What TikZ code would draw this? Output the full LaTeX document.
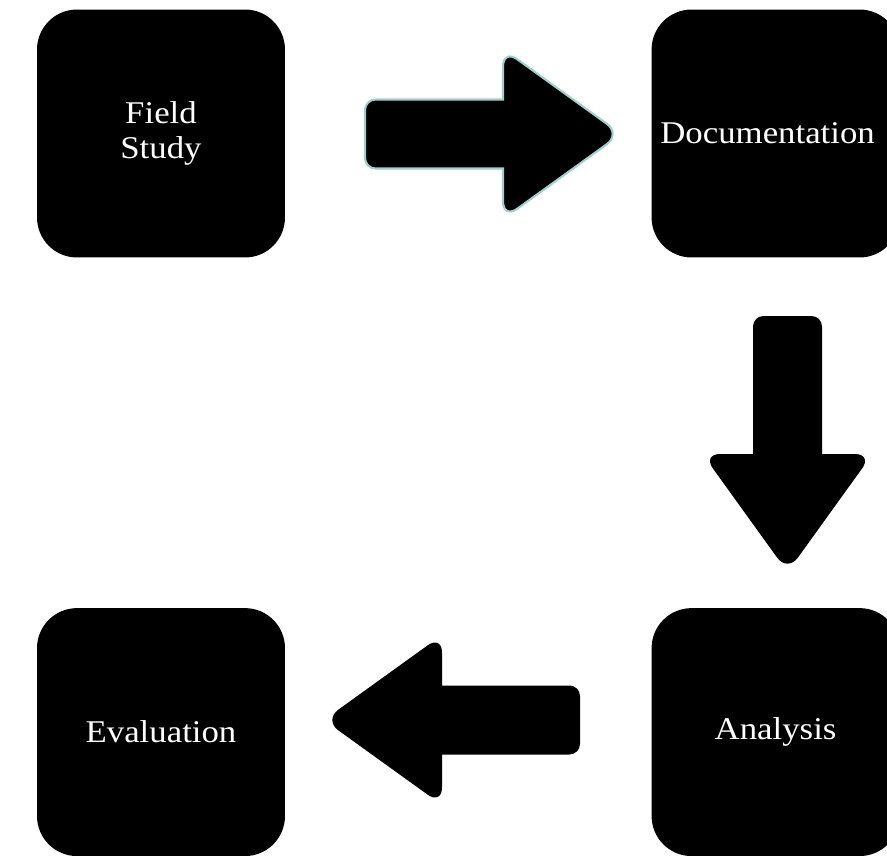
\documentclass[tikz,border=0pt]{standalone}
\usepackage{fontspec}
\setmainfont{Liberation Serif}[FakeStretch=1.1]
\usepackage{xcolor}
\usetikzlibrary{positioning}
\definecolor{flowteal}{HTML}{9FD0CB}

% block arrow, drawn along +x from the back of its shaft
\tikzset{
  blockarrow/.pic={
    \path[pic actions]
      (0,0) [rounded corners=6pt] -- (0,-34.5)
      [sharp corners] -- (138,-34.5)
      [rounded corners=10pt] -- (138,-85) -- (256,0) -- (138,85)
      [sharp corners] -- (138,34.5)
      [rounded corners=6pt] -- (0,34.5) -- cycle;
  }
}

\begin{document}
\begin{tikzpicture}[
  x=0.02cm, y=-0.02cm,
  every node/.style={font=\fontsize{18}{19.8}\selectfont},
  stage/.style={rectangle, rounded corners=0.8cm, minimum width=4.96cm,
                minimum height=4.96cm, inner sep=0pt, align=center,
                fill=black, text=white},
  flow/.style={fill=black},
  flowlit/.style={flow, draw=flowteal, line width=1.2pt},
]
\useasboundingbox (0,0) rectangle (887,856);
\clip (0,0) rectangle (887,856);

% -- Stages ---------------------------------------
\node[stage] (field) at (161,133.5)         {Field\\Study};
\node[stage] (doc)   [right=7.32cm of field] {Documentation\hspace{0.32cm}};
\node[stage] (eval)  [below=7.0cm of field]  {Evaluation};
\node[stage] (ana)   [right=7.32cm of eval]  {Analysis};

% -- Flow arrows ----------------------------------
\pic[flowlit]              at (365,134) {blockarrow};
\pic[flow, rotate=-90]     at (787.5,316) {blockarrow};
\pic[flow, rotate=180]     at (580,720) {blockarrow};

\end{tikzpicture}
\end{document}
